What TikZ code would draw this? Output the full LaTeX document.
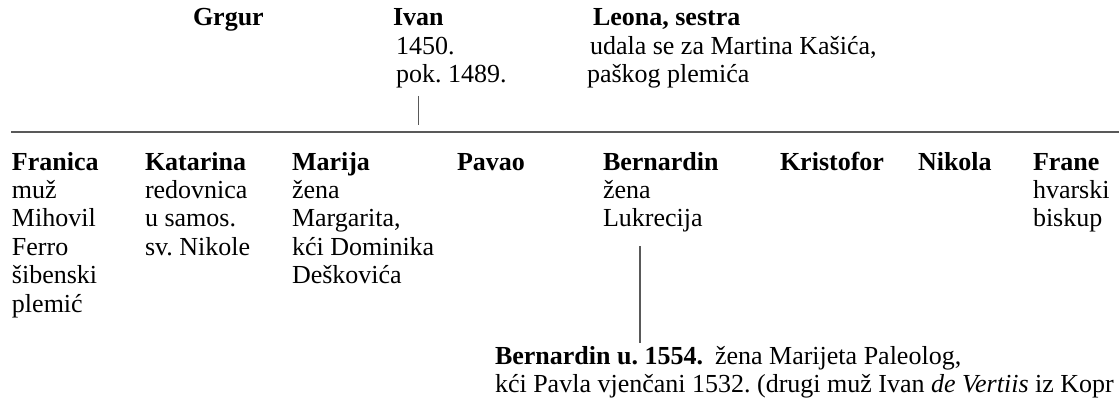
\documentclass[tikz,border=0pt]{standalone}
\usepackage{fontspec}
\setmainfont{Liberation Serif}
\frenchspacing
\newcommand{\colblk}[1]{\begin{tabular}[t]{@{}l@{}}#1\end{tabular}}
\begin{document}
\begin{tikzpicture}[x=1pt,y=-1pt,
  txt/.style={anchor=base west, inner sep=0pt, outer sep=0pt, font=\fontsize{26}{28.5}\selectfont},
  conn/.style={draw=black!65, line width=1.1pt}]
\useasboundingbox (0,0) rectangle (1119,409);
% top generation
\node[txt] (grgur) at (193,26) {\textbf{Grgur}};
\node[txt] (ivan) at (393,26) {\textbf{Ivan}};
\node[txt] (ivand) at (396,54.5) {\colblk{1450.\\pok. 1489.}};
\node[txt] (leona) at (593,26) {\textbf{Leona, sestra}};
\node[txt] (leonad) at (587,54.5) {\colblk{\hspace{3pt}udala se za Martina Kašića,\\paškog plemića}};
% horizontal line
\coordinate (hlL) at (11,132);
\coordinate (hlR) at (1119,132);
\draw[conn] (hlL) -- (hlR);
\draw[conn] ([yshift=-70pt]ivan.base) -- ([yshift=-99pt]ivan.base);
% children
\node[txt] (franica) at (12,170) {\colblk{\textbf{Franica}\\muž\\Mihovil\\Ferro\\šibenski\\plemić}};
\node[txt] (katarina) at (145,170) {\colblk{\textbf{Katarina}\\redovnica\\u samos.\\sv. Nikole}};
\node[txt] (marija) at (292,170) {\colblk{\textbf{Marija}\\žena\\Margarita,\\kći Dominika\\Deškovića}};
\node[txt] (pavao) at (457,170) {\textbf{Pavao}};
\node[txt] (bern) at (603,170) {\colblk{\textbf{Bernardin}\\žena\\Lukrecija}};
\node[txt] (krist) at (780,170) {\textbf{Kristofor}};
\node[txt] (nikola) at (918,170) {\textbf{Nikola}};
\node[txt] (frane) at (1033,170) {\colblk{\textbf{Frane}\\hvarski\\biskup}};
% grandchild
\node[txt] (bernii) at (495,364) {\colblk{\textbf{Bernardin u. 1554.}\hspace{12pt}žena Marijeta Paleolog,\\kći Pavla vjenčani 1532. (drugi muž Ivan \textit{de Vertiis} iz Kopr}};
\coordinate (bl1) at (640,246);
\coordinate (bl2) at (640,343);
\draw[conn] (bl1) -- (bl2);
\end{tikzpicture}
\end{document}
